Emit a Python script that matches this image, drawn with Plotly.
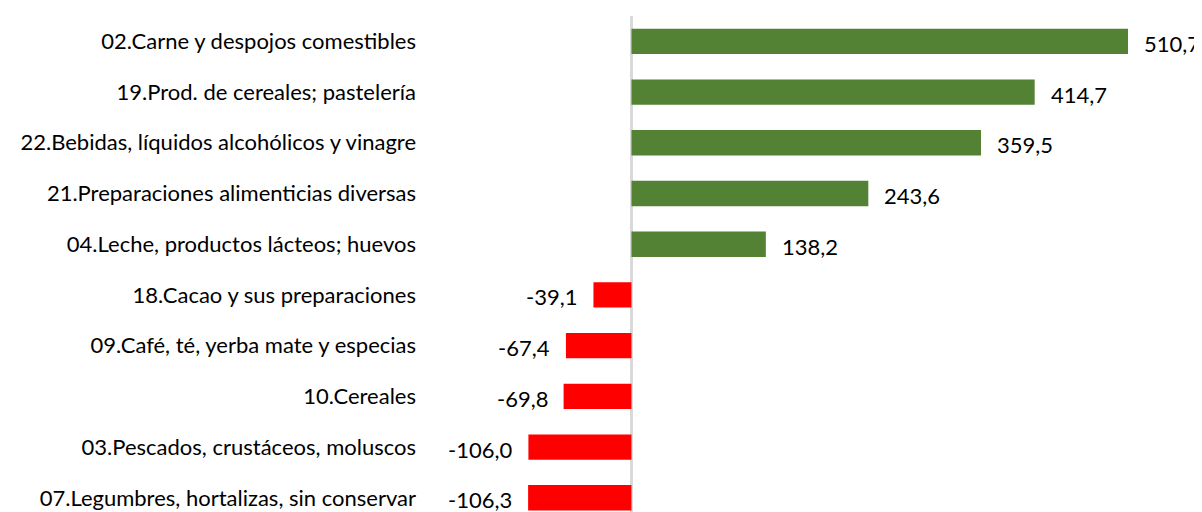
import plotly.graph_objects as go

categories = [
    "02.Carne y despojos comestibles",
    "19.Prod. de cereales; pastelería",
    "22.Bebidas, líquidos alcohólicos y vinagre",
    "21.Preparaciones alimenticias diversas",
    "04.Leche, productos lácteos; huevos",
    "18.Cacao y sus preparaciones",
    "09.Café, té, yerba mate y especias",
    "10.Cereales",
    "03.Pescados, crustáceos, moluscos",
    "07.Legumbres, hortalizas, sin conservar",
]
values = [510.7, 414.7, 359.5, 243.6, 138.2, -39.1, -67.4, -69.8, -106.0, -106.3]

GREEN = "#548235"
RED = "#FF0000"
FONT = "Lato"
FSIZE = 22

ypos = list(range(len(categories)))
colors = [GREEN if v >= 0 else RED for v in values]

fig = go.Figure(go.Bar(
    x=values, y=ypos, orientation="h",
    marker=dict(color=colors, line=dict(width=0)),
    hoverinfo="x+y",
))

for i, v in enumerate(values):
    fig.add_annotation(
        x=v, y=i, xref="x", yref="y",
        text=f"{v:.1f}".replace(".", ","),
        showarrow=False,
        xanchor="left" if v >= 0 else "right",
        xshift=14 if v >= 0 else -14,
        yshift=-2,
        font=dict(family=FONT, size=FSIZE, color="#000000"),
    )

fig.update_layout(
    width=1194, height=504,
    margin=dict(l=412, r=0, t=8, b=0),
    plot_bgcolor="white", paper_bgcolor="white",
    bargap=0.5,
    showlegend=False,
    font=dict(family=FONT, size=FSIZE, color="#000000"),
    xaxis=dict(range=[-217.5, 586.8], showgrid=False, showticklabels=False,
               zeroline=True, zerolinecolor="#D9D9D9", zerolinewidth=3,
               showline=False, fixedrange=True),
    yaxis=dict(range=[9.28, -0.5], tickmode="array", tickvals=ypos,
               ticktext=categories, showgrid=False, zeroline=False,
               showline=False, ticks="", ticklabelstandoff=3,
               tickfont=dict(family=FONT, size=FSIZE, color="#000000")),
)

fig.write_html("out.html")
